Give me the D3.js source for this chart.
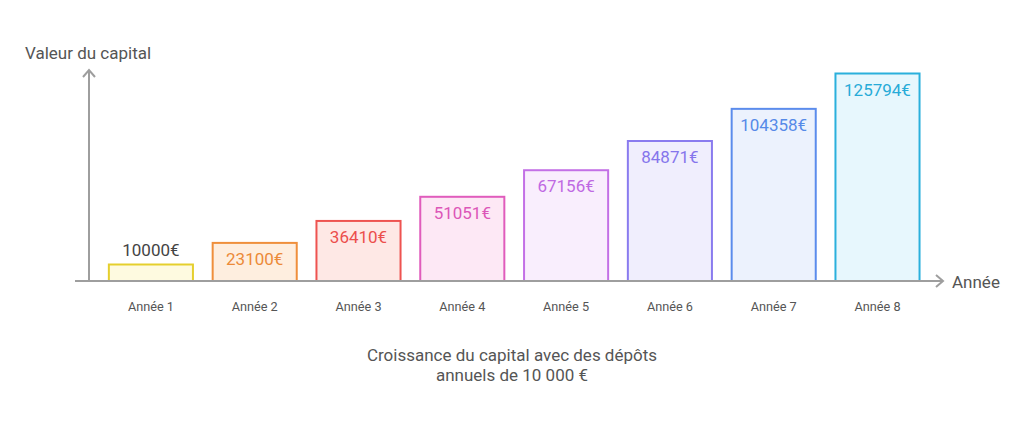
<!DOCTYPE html>
<html><head><meta charset="utf-8">
<script src="https://cdn.jsdelivr.net/npm/d3@7"></script>
<style>body{margin:0;background:#fff;} text{font-family:Roboto,"Noto Sans",sans-serif;}</style>
</head><body>
<svg id="c" width="1024" height="428"></svg>
<script>
const categories = ["Année 1","Année 2","Année 3","Année 4","Année 5","Année 6","Année 7","Année 8"];
const values = [10000, 23100, 36410, 51051, 67156, 84871, 104358, 125794];
const valueLabels = ["10000€","23100€","36410€","51051€","67156€","84871€","104358€","125794€"];
const strokeColors = ["#e5cf2e","#ef8f3c","#ee5350","#e05cbc","#c370e6","#8a7bef","#5b8cec","#2bb0dc"];
const fillColors = ["#fefae0","#feeedf","#fee8e5","#fde8f5","#f9eefd","#f0eefd","#ecf2fd","#e7f7fd"];
const textColors = ["#444444","#ec8a38","#ec4f4c","#dc56b8","#bf69e3","#8575ec","#568ae8","#27abd8"];
const yTitle = "Valeur du capital";
const xTitle = "Année";
const caption = ["Croissance du capital avec des dépôts","annuels de 10 000 €"];

const svg = d3.select("#c");
const base = 281;
const x = d3.scaleBand().domain(categories).range([99, 929.4]).paddingInner(0.19).paddingOuter(0.095);
const y = d3.scaleLinear().domain([0, d3.max(values)]).range([base, 73.5]);

const axisCol = "#9e9e9e";
svg.selectAll("rect.bar").data(values).join("rect")
  .attr("x",(d,i)=>x(categories[i]))
  .attr("y",d=>y(d))
  .attr("width",x.bandwidth())
  .attr("height",d=>base-y(d))
  .attr("fill",(d,i)=>fillColors[i])
  .attr("stroke",(d,i)=>strokeColors[i])
  .attr("stroke-width",2);

svg.append("line").attr("x1",89).attr("x2",89).attr("y1",base).attr("y2",70).attr("stroke",axisCol).attr("stroke-width",2);
svg.append("path").attr("d","M83,77 L89,70 L95,77").attr("fill","none").attr("stroke",axisCol).attr("stroke-width",2);
svg.append("line").attr("x1",75).attr("x2",943).attr("y1",base).attr("y2",base).attr("stroke",axisCol).attr("stroke-width",2);
svg.append("path").attr("d","M936,275 L943,281 L936,287").attr("fill","none").attr("stroke",axisCol).attr("stroke-width",2);

svg.selectAll("text.val").data(values).join("text")
  .attr("x",(d,i)=>x(categories[i])+x.bandwidth()/2)
  .attr("y",(d,i)=> i===0 ? y(d)-9 : y(d)+22)
  .attr("text-anchor","middle").attr("font-size",17)
  .attr("fill",(d,i)=>textColors[i])
  .text((d,i)=>valueLabels[i]);

svg.selectAll("text.cat").data(categories).join("text")
  .attr("x",d=>x(d)+x.bandwidth()/2).attr("y",311)
  .attr("text-anchor","middle").attr("font-size",12.7).attr("fill","#555")
  .text(d=>d);

svg.append("text").attr("x",25).attr("y",59).attr("font-size",17).attr("fill","#555").text(yTitle);
svg.append("text").attr("x",952).attr("y",288).attr("font-size",17).attr("fill","#555").text(xTitle);
svg.selectAll("text.cap").data(caption).join("text")
  .attr("x",512).attr("y",(d,i)=>361+i*20)
  .attr("text-anchor","middle").attr("font-size",17).attr("fill","#555").text(d=>d);
</script>
</body></html>
